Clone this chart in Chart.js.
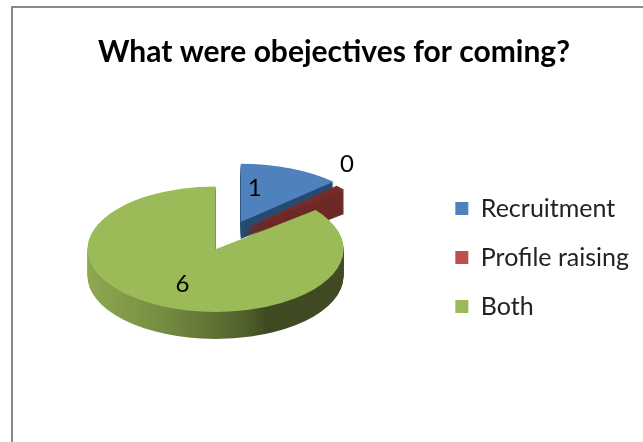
<!DOCTYPE html>
<html><head><meta charset="utf-8">
<script src="https://cdn.jsdelivr.net/npm/chart.js@4"></script>
<style>
html,body{margin:0;padding:0;background:#fff;overflow:hidden}
#frame{position:absolute;left:11px;top:6px;width:700px;height:500px;border:2.5px solid #8a8a8a;box-sizing:border-box}
#wrap{position:absolute;left:0;top:0;width:643px;height:442px}
canvas{filter:blur(0.35px)}
</style></head><body>
<div id="frame"></div>
<div id="wrap"><canvas id="c" width="643" height="442"></canvas></div>
<script>
const chartTitle = 'What were obejectives for coming?';
const categories = ['Recruitment', 'Profile raising', 'Both'];
const values = [0.9, 0.1, 6];
const legendColors = ['#4F81BD', '#C0504D', '#9BBB59'];
const topColors = ['#4F81BD', '#772C2A', '#9BBB59'];
const wallColors = ['#264B73', '#6E2927', null];
const explode = [30, 20, 31];
const depth = [17, 24, 27];
const squashes = [0.455, 0.49, 0.49];
const labelShift = [[14, -34], [103, -65], [-33, 35]];
const squash = 0.49, pieX = 229, pieY = 235.5;
const fontFamily = 'Lato, "Open Sans", sans-serif';

function sliceCentre(arc, i) {
  const mid = (arc.startAngle + arc.endAngle) / 2;
  return { x: pieX + Math.cos(mid) * explode[i], y: pieY + Math.sin(mid) * explode[i] * squash };
}
const pie3d = {
  id: 'pie3d',
  afterDatasetUpdate(chart) {
    chart.getDatasetMeta(0).data.forEach((arc, i) => {
      if (arc.draw !== Chart.ArcElement.prototype.draw) return;
      arc.draw = function (ctx) {
        const c = sliceCentre(this, i), a = this.outerRadius, b = a * squashes[i];
        ctx.save();
        let wall = wallColors[i];
        if (!wall) {
          wall = ctx.createLinearGradient(c.x - a, 0, c.x + a, 0);
          wall.addColorStop(0, '#8DA851');
          wall.addColorStop(0.3, '#748C42');
          wall.addColorStop(0.62, '#505F2B');
          wall.addColorStop(0.7, '#3F4A22');
          wall.addColorStop(1, '#414B23');
        }
        ctx.fillStyle = wall;
        for (let d = depth[i]; d >= 1; d--) {
          ctx.beginPath();
          ctx.moveTo(c.x, c.y + d);
          ctx.ellipse(c.x, c.y + d, a, b, 0, this.startAngle, this.endAngle);
          ctx.closePath();
          ctx.fill();
        }
        ctx.translate(c.x - this.x, c.y - squashes[i] * this.y);
        ctx.scale(1, squashes[i]);
        Chart.ArcElement.prototype.draw.call(this, ctx);
        ctx.restore();
      };
    });
  },
  afterDatasetsDraw(chart) {
    const ctx = chart.ctx;
    ctx.save();
    ctx.fillStyle = '#000';
    ctx.font = '24px ' + fontFamily;
    ctx.textAlign = 'center';
    ctx.textBaseline = 'middle';
    chart.getDatasetMeta(0).data.forEach((arc, i) => {
      const c = sliceCentre(arc, i);
      ctx.fillText(String(Math.round(values[i])), c.x + labelShift[i][0], c.y + labelShift[i][1]);
    });
    ctx.restore();
  }
};

new Chart(document.getElementById('c'), {
  type: 'pie',
  plugins: [pie3d],
  data: {
    labels: categories,
    datasets: [{ data: values, backgroundColor: topColors, borderWidth: 0, clip: false }]
  },
  options: {
    responsive: false,
    animation: false,
    radius: 128,
    layout: { padding: { left: 29, right: 4, top: 34, bottom: 0 } },
    plugins: {
      tooltip: { enabled: false },
      title: {
        display: true, text: chartTitle, color: '#000',
        font: { family: fontFamily, size: 30, weight: 'bold' },
        padding: { top: 0, bottom: 3 }
      },
      legend: {
        position: 'right',
        fullSize: false,
        labels: {
          color: '#222',
          font: { family: fontFamily, size: 25 },
          boxWidth: 13, boxHeight: 13, padding: 24,
          generateLabels: () => categories.map((t, i) => ({
            text: t, fillStyle: legendColors[i], strokeStyle: legendColors[i],
            lineWidth: 0, hidden: false, index: i, fontColor: '#222'
          }))
        }
      }
    }
  }
});
</script>
</body></html>
